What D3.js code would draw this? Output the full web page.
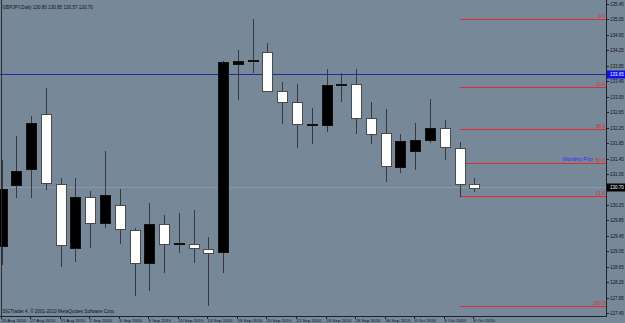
<html>
<head>
<meta charset="UTF-8" />
<style>
body{margin:0;background:#778899;}
svg{display:block;font-family:"Liberation Sans",Arial,sans-serif;}
</style>
</head>
<body>
<script src="https://d3js.org/d3.v7.min.js"></script>
<script>
var width = 625;
var height = 323;

// daily bars, GBPJPY
var dates = ["25 Aug 2010","26 Aug 2010","27 Aug 2010","30 Aug 2010","31 Aug 2010","1 Sep 2010","2 Sep 2010","3 Sep 2010",
             "6 Sep 2010","7 Sep 2010","8 Sep 2010","9 Sep 2010","10 Sep 2010","13 Sep 2010","14 Sep 2010","15 Sep 2010",
             "16 Sep 2010","17 Sep 2010","20 Sep 2010","21 Sep 2010","22 Sep 2010","23 Sep 2010","24 Sep 2010","27 Sep 2010",
             "28 Sep 2010","29 Sep 2010","30 Sep 2010","1 Oct 2010","4 Oct 2010","5 Oct 2010","6 Oct 2010","7 Oct 2010","8 Oct 2010"];
var opens  = [129.18,130.76,131.18,132.60,130.79,129.14,130.46,129.79,130.25,129.60,128.74,129.75,129.26,129.24,129.10,129.01,
              133.91,133.99,134.22,133.20,132.91,132.33,132.32,133.37,133.38,132.51,132.10,131.24,131.64,131.93,132.24,131.73,130.80];
var highs  = [131.40,132.03,132.55,133.28,130.95,130.95,130.61,131.64,130.66,129.66,130.31,129.99,130.05,130.12,129.43,133.97,
              134.26,135.06,134.43,133.42,133.37,132.77,133.77,133.67,133.76,132.92,132.72,132.08,132.38,132.99,132.44,131.87,130.95];
var lows   = [128.70,130.43,130.43,130.63,128.64,128.77,129.14,129.65,129.24,127.89,128.02,128.49,129.00,128.75,127.63,128.49,
              132.96,133.66,133.19,132.34,131.71,131.82,132.14,132.91,132.08,131.82,130.83,131.08,131.15,131.86,131.41,130.45,130.57];
var closes = [130.66,131.13,132.38,130.82,129.21,130.46,129.78,130.51,129.63,128.74,129.75,129.23,129.27,129.13,129.00,133.94,
              133.98,134.00,133.20,132.91,132.34,132.34,133.35,133.38,132.51,132.10,131.24,131.91,131.92,132.23,131.76,130.80,130.70];

var dateLabels = ["25 Aug 2010","27 Aug 2010","31 Aug 2010","2 Sep 2010","6 Sep 2010","8 Sep 2010","10 Sep 2010","14 Sep 2010",
                  "16 Sep 2010","20 Sep 2010","22 Sep 2010","24 Sep 2010","28 Sep 2010","30 Sep 2010","4 Oct 2010","6 Oct 2010","8 Oct 2010"];
// 130.65 sits under the bid box, so it is left out
var priceTicks = [135.45,135.05,134.65,134.25,133.85,133.45,133.05,132.65,132.25,131.85,131.45,131.05,
                  130.25,129.85,129.45,129.05,128.65,128.25,127.85,127.45];

// fibonacci retracement
var fibHigh = 135.06, fibLow = 127.63;
var fibLevels = [0, 23.6, 38.2, 50.0, 61.8, 100.0];
var fibStart = "7 Oct 2010";

var pivotPrice = 133.65;
var bidPrice = 130.70;
var title = "GBPJPY,Daily  130.80 130.95 130.57 130.70";

var bars = dates.map(function(d,i){
	return {date:d, o:opens[i], h:highs[i], l:lows[i], c:closes[i]};
});

var plotRight = 606, plotBottom = 316;

var x = d3.scalePoint().domain(dates).range([1.55, 474.3]);
var y = d3.scaleLinear().domain([127.45, 135.45]).range([313, 4]);

var svg = d3.select("body").append("svg")
			.attr("width",width)
			.attr("height",height);

svg.append("rect").attr("width",width).attr("height",height).attr("fill","#778899");

// bid line
svg.append("line")
   .attr("x1",0).attr("x2",plotRight)
   .attr("y1",Math.round(y(bidPrice))+0.5).attr("y2",Math.round(y(bidPrice))+0.5)
   .attr("stroke","#8c95aa").attr("stroke-width",1);

// blue line
svg.append("line")
   .attr("x1",0).attr("x2",plotRight)
   .attr("y1",Math.round(y(pivotPrice))+0.5).attr("y2",Math.round(y(pivotPrice))+0.5)
   .attr("stroke","#28289e").attr("stroke-width",1);

// fib lines
var fib = svg.append("g");
fibLevels.forEach(function(r){
	var p = fibHigh - r/100*(fibHigh-fibLow);
	var yy = Math.round(y(p))+0.5;
	fib.append("line")
	   .attr("x1",x(fibStart)).attr("x2",plotRight)
	   .attr("y1",yy).attr("y2",yy)
	   .attr("stroke","#e02c2c").attr("stroke-width",1);
	fib.append("text")
	   .attr("x",605).attr("y",yy-1.5)
	   .attr("text-anchor","end")
	   .attr("font-size",4.6)
	   .attr("fill","#e02a2a")
	   .text(r.toFixed(1));
});

svg.append("text")
   .attr("x",563).attr("y",161)
   .attr("font-size",5.4)
   .attr("fill","#2a2aff")
   .text("Monthly Pvp");

// candles
var g = svg.append("g").attr("shape-rendering","crispEdges");
var candle = g.selectAll("g").data(bars).enter().append("g");

candle.append("line")
	  .attr("x1",d => Math.round(x(d.date))+0.5)
	  .attr("x2",d => Math.round(x(d.date))+0.5)
	  .attr("y1",d => y(d.h))
	  .attr("y2",d => y(d.l))
	  .attr("stroke","#35393f");

candle.append("rect")
	  .attr("x",d => Math.round(x(d.date))-4.5)
	  .attr("width",10)
	  .attr("y",d => Math.round(y(Math.max(d.o,d.c)))+0.5)
	  .attr("height",d => Math.max(1, Math.round(Math.abs(y(d.o)-y(d.c)))))
	  .attr("fill",d => d.c > d.o ? "#000" : "#fff")
	  .attr("stroke",d => d.c > d.o ? "#111" : "#4a4a4a");

// frame
svg.append("line").attr("x1",1.5).attr("x2",1.5).attr("y1",0).attr("y2",plotBottom).attr("stroke","#2a2e34");
svg.append("line").attr("x1",plotRight+0.5).attr("x2",plotRight+0.5).attr("y1",0).attr("y2",plotBottom+1).attr("stroke","#1e2228");
svg.append("line").attr("x1",0).attr("x2",plotRight+1).attr("y1",plotBottom+0.5).attr("y2",plotBottom+0.5).attr("stroke","#1e2228");

// price axis
var ya = svg.append("g");
priceTicks.forEach(function(p){
	var yy = Math.round(y(p))+0.5;
	ya.append("line").attr("x1",plotRight).attr("x2",plotRight+3).attr("y1",yy).attr("y2",yy).attr("stroke","#1e2228");
	ya.append("text").attr("x",610).attr("y",yy+1.6).attr("font-size",4.5).attr("fill","#111").text(p.toFixed(2));
});

function priceBox(p, fill){
	var yy = Math.round(y(p))+0.5;
	svg.append("rect").attr("x",plotRight+1).attr("y",yy-4).attr("width",18).attr("height",8).attr("fill",fill);
	svg.append("text").attr("x",610).attr("y",yy+1.6).attr("font-size",4.5).attr("fill","#fff").text(p.toFixed(2));
}
priceBox(pivotPrice,"#1010ee");
priceBox(bidPrice,"#000");

// time axis
var xa = svg.append("g");
dateLabels.forEach(function(d){
	var xx = Math.round(x(d))-0.5;
	xa.append("line").attr("x1",xx).attr("x2",xx).attr("y1",plotBottom).attr("y2",plotBottom+3).attr("stroke","#1e2228");
	xa.append("text").attr("x",xx).attr("y",321.5).attr("font-size",4.4).attr("fill","#111").text(d);
});

svg.append("text").attr("x",2.5).attr("y",8.5).attr("font-size",4.6).attr("fill","#111").text(title);
svg.append("text").attr("x",2.5).attr("y",313).attr("font-size",4.6).attr("fill","#111")
   .text("SIGTrader 4, \u00a9 2001-2010 MetaQuotes Software Corp.");
</script>
</body>
</html>
